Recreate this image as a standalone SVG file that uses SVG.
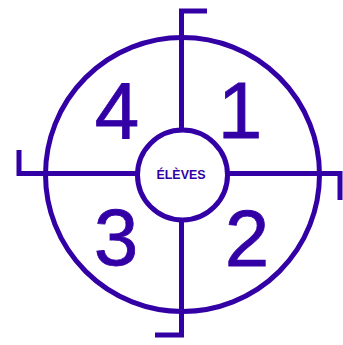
<svg xmlns="http://www.w3.org/2000/svg" width="343" height="345" viewBox="0 0 343 345">
<style>
.s{fill:none;stroke:#3300a6;stroke-width:5}
.d{font-family:"Liberation Sans",Arial,sans-serif;font-size:80px;fill:#3300a6;text-anchor:middle;stroke:#3300a6;stroke-width:0.8}
.l{font-family:"Liberation Sans",Arial,sans-serif;font-size:12px;font-weight:bold;fill:#3300a6;text-anchor:middle}
</style>
<rect width="343" height="345" fill="#fff"/>
<g id="connectors">
<path class="s" d="M207,11 H181.5 V335 H155"/>
<path class="s" d="M19,150 V173.5 H340 V200"/>
</g>
<g id="outer">
<circle class="s" cx="182.5" cy="174.5" r="137"/>
</g>
<g id="q1"><text class="d" x="240" y="138">1</text></g>
<g id="q2"><text class="d" x="247" y="266">2</text></g>
<g id="q3"><text class="d" x="116" y="265">3</text></g>
<g id="q4"><text class="d" x="117" y="138">4</text></g>
<g id="center">
<circle cx="182.5" cy="175" r="45" fill="#fff" stroke="#3300a6" stroke-width="5"/>
<text class="l" x="181" y="179" textLength="49" lengthAdjust="spacingAndGlyphs">ÉLÈVES</text>
</g>
</svg>
